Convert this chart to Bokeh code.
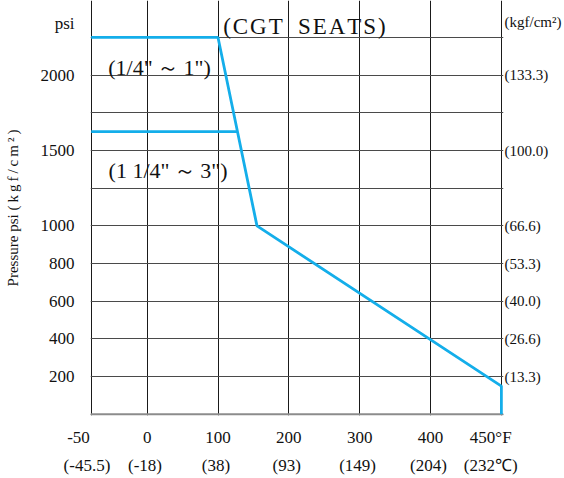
import numpy as np
from bokeh.plotting import figure
from bokeh.models import FixedTicker, LinearAxis, Label, Span, Range1d
from bokeh.embed import file_html
from bokeh.resources import INLINE

# ---------------- data ----------------
title_text = "(CGT SEATS)"
temp_ticks_f = [-50, 0, 100, 200, 300, 400, 450]
temp_labels_f = ["-50", "0", "100", "200", "300", "400", "450°F"]
temp_labels_c = ["(-45.5)", "(-18)", "(38)", "(93)", "(149)", "(204)", "(232℃)"]
psi_grid = [0, 200, 400, 600, 800, 1000, 1250, 1500, 1750, 2000, 2250]
psi_ticks = [200, 400, 600, 800, 1000, 1500, 2000]
psi_labels = ["200", "400", "600", "800", "1000", "1500", "2000"]
kgf_labels = ["(13.3)", "(26.6)", "(40.0)", "(53.3)", "(66.6)", "(100.0)", "(133.3)"]
left_unit = "psi"
right_unit = "(kgf/cm²)"
y_title = "Pressure psi"

series_a_name = '(1/4"～1")'
series_a_temp = [-50, 100, 155, 450, 450]
series_a_psi = [2250, 2250, 1000, 150, 0]

series_b_name = '(1 1/4"～3")'
series_b_temp = [-50, 127]
series_b_psi = [1625, 1625]

# ---------------- scale (the chart grid is not linear) ----------------
temp_pos = [-0.79, 0, 1, 2, 3, 4, 5]
psi_pos = list(range(len(psi_grid)))


def xmap(t):
    return np.interp(t, temp_ticks_f, temp_pos)


def ymap(v):
    return np.interp(v, psi_grid, psi_pos)


FONT = "Liberation Serif"
BLUE = "#14AEEA"
NB = "\u00a0"
TS = "\u2009"
HS = "\u200a"
HEADER_Y = 10.38  # header row above the grid (units row)

p = figure(width=564, height=478,
           x_range=Range1d(-0.80, 5.03), y_range=Range1d(-0.03, 10.98),
           output_backend="svg", toolbar_location=None,
           x_axis_location=None, y_axis_location=None,
           min_border_left=90, min_border_right=59,
           min_border_top=0, min_border_bottom=63)
p.outline_line_color = None
p.background_fill_color = "white"
p.border_fill_color = "white"

# grids (vertical lines limited to the grid box)
p.xgrid.ticker = FixedTicker(ticks=[float(v) for v in xmap(temp_ticks_f)])
p.xgrid.grid_line_color = "#1a1a1a"
p.xgrid.grid_line_width = 1
p.xgrid.bounds = (float(ymap(psi_grid[0])), float(ymap(psi_grid[-1])))
p.ygrid.ticker = FixedTicker(ticks=[float(v) for v in ymap(psi_grid)])
p.ygrid.grid_line_color = "#4a4a4a"
p.ygrid.grid_line_width = 1.2

p.add_layout(Span(location=float(ymap(0)), dimension="width",
                  line_color="#8c8c8c", line_width=2.2, level="underlay"))


def style_axis(ax, standoff, size="17px"):
    ax.axis_line_color = None
    ax.major_tick_line_color = None
    ax.minor_tick_line_color = None
    ax.major_tick_out = 0
    ax.major_tick_in = 0
    ax.major_label_standoff = standoff
    ax.major_label_text_font = FONT
    ax.major_label_text_font_size = size
    ax.major_label_text_color = "#111111"


xt = [float(v) for v in xmap(temp_ticks_f)]
f_over = {}
for i, (pos, lab) in enumerate(zip(xt, temp_labels_f)):
    if i == 0:
        lab = lab + NB * 6
    elif i == len(xt) - 1:
        lab = lab + NB * 5
    f_over[pos] = lab
c_over = {}
for i, (pos, lab) in enumerate(zip(xt, temp_labels_c)):
    if i == 0:
        lab = lab + NB * 2
    elif i == len(xt) - 1:
        lab = lab + NB * 5
    else:
        lab = lab + NB * 1
    c_over[pos] = lab

ax_f = LinearAxis(ticker=FixedTicker(ticks=xt), major_label_overrides=f_over)
style_axis(ax_f, 12)
ax_c = LinearAxis(ticker=FixedTicker(ticks=xt), major_label_overrides=c_over)
style_axis(ax_c, 6)
p.add_layout(ax_f, "below")
p.add_layout(ax_c, "below")

yt = [float(v) for v in ymap(psi_ticks)]
l_over = {pos: lab for pos, lab in zip(yt, psi_labels)}
l_over[HEADER_Y] = left_unit
ax_l = LinearAxis(ticker=FixedTicker(ticks=yt + [HEADER_Y]), major_label_overrides=l_over)
style_axis(ax_l, 16)
ax_l.axis_label = y_title + " " + TS.join(list(right_unit))
ax_l.axis_label_text_font = FONT
ax_l.axis_label_text_font_size = "15px"
ax_l.axis_label_text_font_style = "normal"
ax_l.axis_label_text_color = "#111111"
ax_l.axis_label_standoff = 17

r_over = {pos: lab for pos, lab in zip(yt, kgf_labels)}
r_over[HEADER_Y + 0.03] = right_unit
ax_r = LinearAxis(ticker=FixedTicker(ticks=yt + [HEADER_Y + 0.03]), major_label_overrides=r_over)
style_axis(ax_r, 1, "15px")
p.add_layout(ax_l, "left")
p.add_layout(ax_r, "right")

# lines
p.line(xmap(series_a_temp), ymap(series_a_psi), line_color=BLUE, line_width=2.8)
p.line(xmap(series_b_temp), ymap(series_b_psi), line_color=BLUE, line_width=2.8)


def add_label(x, y, text, size, align="left", baseline="alphabetic"):
    p.add_layout(Label(x=x, y=y, text=text, text_font=FONT, text_font_size=size,
                       text_align=align, text_baseline=baseline,
                       text_color="#111111"))


add_label(2.22, 10.30, HS.join(list(title_text)).replace(" ", NB + NB), "23px", align="center")
add_label(-0.55, 9.20, series_a_name.replace("～", TS + "～" + TS), "22px")
add_label(-0.545, 6.469, series_b_name.replace("～", TS + "～" + TS), "22px")

open("out.html", "w").write(file_html(p, INLINE))
